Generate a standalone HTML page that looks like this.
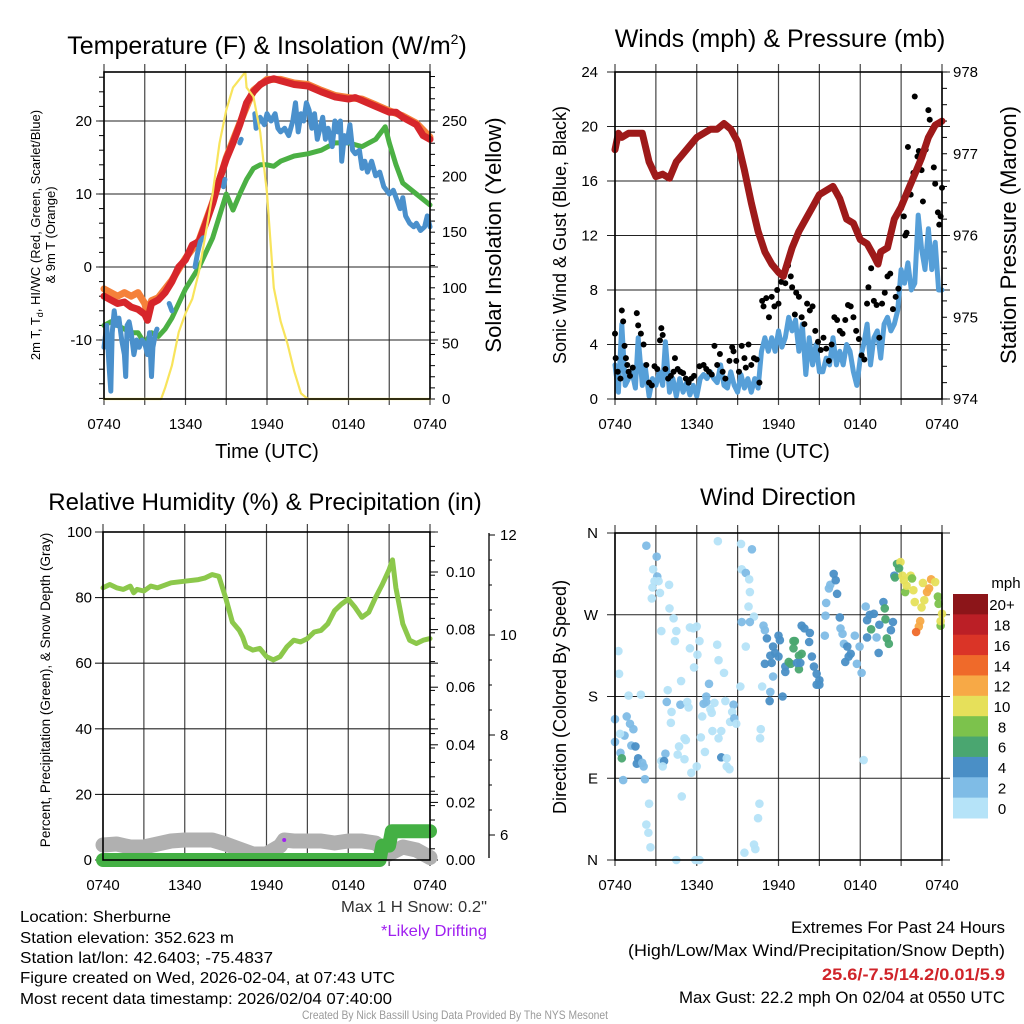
<!DOCTYPE html>
<html><head><meta charset="utf-8"><style>
html,body{margin:0;padding:0;background:#fff;}
svg{display:block;font-family:"Liberation Sans",sans-serif;}
</style></head><body>
<svg id="fig" width="1024" height="1024" viewBox="0 0 1024 1024" xmlns="http://www.w3.org/2000/svg">
<rect width="1024" height="1024" fill="#fff"/>
<g id="layer"></g>
<text x="267" y="54" font-size="25" text-anchor="middle">Temperature (F) &amp; Insolation (W/m<tspan font-size="14" dy="-10">2</tspan><tspan dy="10">)</tspan></text>
<text x="780" y="47" font-size="25" text-anchor="middle">Winds (mph) &amp; Pressure (mb)</text>
<text x="265" y="510" font-size="24" text-anchor="middle">Relative Humidity (%) &amp; Precipitation (in)</text>
<text x="778" y="505" font-size="24" text-anchor="middle">Wind Direction</text>
<text x="267" y="458" font-size="20" text-anchor="middle">Time (UTC)</text>
<text x="778" y="458" font-size="20" text-anchor="middle">Time (UTC)</text>
<text transform="translate(40,235) rotate(-90)" font-size="13" text-anchor="middle">2m T, T<tspan font-size="9" dy="3">d</tspan><tspan dy="-3">, HI/WC (Red, Green, Scarlet/Blue)</tspan></text>
<text transform="translate(55,235) rotate(-90)" font-size="13" text-anchor="middle">&amp; 9m T (Orange)</text>
<text transform="translate(501,235) rotate(-90)" font-size="22" text-anchor="middle">Solar Insolation (Yellow)</text>
<text transform="translate(566,235) rotate(-90)" font-size="18" text-anchor="middle">Sonic Wind &amp; Gust (Blue, Black)</text>
<text transform="translate(1016,235) rotate(-90)" font-size="22" text-anchor="middle">Station Pressure (Maroon)</text>
<text transform="translate(50,690) rotate(-90)" font-size="13.5" text-anchor="middle">Percent, Precipitation (Green), &amp; Snow Depth (Gray)</text>
<text transform="translate(566,697) rotate(-90)" font-size="18" text-anchor="middle">Direction (Colored By Speed)</text>
<text x="341" y="912" font-size="16" textLength="146" lengthAdjust="spacingAndGlyphs" fill="#333">Max 1 H Snow: 0.2"</text>
<text x="381" y="936" font-size="16" textLength="106" lengthAdjust="spacingAndGlyphs" fill="#a020f0">*Likely Drifting</text>
<g font-size="16">
<text x="20" y="922" textLength="151" lengthAdjust="spacingAndGlyphs">Location: Sherburne</text>
<text x="20" y="943" textLength="214" lengthAdjust="spacingAndGlyphs">Station elevation: 352.623 m</text>
<text x="20" y="963" textLength="253" lengthAdjust="spacingAndGlyphs">Station lat/lon: 42.6403; -75.4837</text>
<text x="20" y="983" textLength="375" lengthAdjust="spacingAndGlyphs">Figure created on Wed, 2026-02-04, at 07:43 UTC</text>
<text x="20" y="1004" textLength="372" lengthAdjust="spacingAndGlyphs">Most recent data timestamp: 2026/02/04 07:40:00</text>
</g>
<g font-size="16.5">
<text x="791" y="933" textLength="214" lengthAdjust="spacingAndGlyphs">Extremes For Past 24 Hours</text>
<text x="628" y="956" textLength="377" lengthAdjust="spacingAndGlyphs">(High/Low/Max Wind/Precipitation/Snow Depth)</text>
<text x="822" y="980" textLength="183" lengthAdjust="spacingAndGlyphs" fill="#d0242a" font-weight="bold">25.6/-7.5/14.2/0.01/5.9</text>
<text x="679" y="1003" textLength="326" lengthAdjust="spacingAndGlyphs">Max Gust: 22.2 mph On 02/04 at 0550 UTC</text>
</g>
<text x="302" y="1019" font-size="12" textLength="306" lengthAdjust="spacingAndGlyphs" fill="#9a9a9a">Created By Nick Bassill Using Data Provided By The NYS Mesonet</text>
</svg>
<script>
// ---------- DATA (hour since 0740 UTC, value) ----------
const xTickLabels = ["0740","1340","1940","0140","0740"];
const tempTicks = [20,10,0,-10];
const insolTicks = [250,200,150,100,50,0];
const windTicks = [0,4,8,12,16,20,24];
const presTicks = [978,977,976,975,974];
const rhTicks = [0,20,40,60,80,100];
const precipTicks = ["0.00","0.02","0.04","0.06","0.08","0.10"];
const snowTicks = [6,8,10,12];
const dirTicks = ["N","E","S","W","N"];
const speedBinLabels = ["0","2","4","6","8","10","12","14","16","18","20+"];
const speedBinColors = ["#b5e3f8","#7fbce6","#4a8fc6","#4aa670","#7cc24c","#e6e05a","#f7a946","#ef6a2a","#da3427","#bb1f26","#8c1519"];

const tempRed = [[0,-4],[0.5,-4.5],[1,-5],[1.5,-4.8],[2,-5.5],[2.5,-5.8],[3,-6.5],[3.2,-7.3],[3.5,-5],[4,-4.5],[4.5,-3.5],[5,-2],[5.5,0],[6,1],[6.5,3],[7,3.5],[7.5,6],[8,8.7],[8.5,12],[9,14.8],[9.5,17],[10,19.5],[10.5,22.5],[11,24],[11.5,25],[12,25.5],[12.5,25.8],[13,25.5],[14,25],[15,24.8],[16,24],[17,23.3],[18,23],[18.5,23.2],[19,22.8],[20,22],[21,21.2],[21.5,21.2],[22,20.5],[23,19.5],[23.5,18],[24,17.5]];
const tempOrange = [[0,-3],[0.5,-3.5],[1,-4],[1.5,-3.5],[2,-4],[2.5,-3.5],[3,-5],[3.2,-6.5],[3.5,-4.6],[4,-4.2],[5,-1.8],[6,1.2],[7,3.7],[8,8.9],[9,15],[10,19.7],[11,24.2],[12,25.7],[13,25.7],[14,25.2],[15,25],[16,24.2],[17,23.5],[18,23.2],[19,23],[20,22.2],[21,21.4],[22,20.7],[23,19.7],[24,17.8]];
const tempGreen = [[0,-8],[0.5,-7.5],[1,-8],[1.5,-8.5],[2,-9],[2.5,-9],[3,-10.5],[3.5,-9],[4,-9.5],[4.5,-8.5],[5,-7],[5.5,-5],[6,-3],[6.5,-1.5],[7,0],[7.5,2],[8,4],[8.5,7],[9,10],[9.5,7.8],[10,10],[10.5,12],[11,13.5],[11.5,14],[12,14],[12.5,13.8],[13,14.5],[14,15.2],[15,15.5],[16,16],[17,17],[18,17],[19,16.5],[20,17.5],[20.7,19.2],[21,17],[21.5,14],[22,11.5],[23,10],[24,8.5]];
const tempBlue = [[0,-11],[0.2,-8],[0.35,-13],[0.5,-17],[0.6,-9],[0.75,-6],[0.9,-8],[1.1,-7],[1.3,-10],[1.5,-12],[1.6,-15],[1.7,-8],[1.85,-7.5],[2,-9],[2.2,-12],[2.4,-10],[2.6,-11],[2.8,-10],[3,-10.5],[3.2,-12],[3.35,-9],[3.5,-15],[3.6,-11],[3.8,-9],[3.9,-8.5],null,[4.8,-5],[5,-6],null,[6.7,0],[6.9,2],[7.1,3.5],[7.3,4],null,[8.8,11],[8.9,12],null,[10,17],[10.1,17.5],null,[11.1,21],[11.2,19],[11.5,20.5],[11.8,19.5],[12,21],[12.3,20],[12.6,21],[12.8,19],[13,18.5],[13.3,19],[13.6,18],[13.9,20],[14.1,22.5],[14.3,18.5],[14.5,21],[14.7,20],[14.9,22.5],[15.1,21.5],[15.3,19],[15.5,21],[15.7,17.5],[15.9,19],[16.1,20.5],[16.3,17.5],[16.5,19],[16.8,16.5],[17,20],[17.2,18.5],[17.4,20],[17.5,14.5],[17.7,18],[17.9,17],[18.1,19.5],[18.3,16],[18.5,15.5],[18.8,16],[19,13.5],[19.2,14.5],[19.4,13],[19.7,14.5],[20,12.5],[20.3,13],[20.6,11],[20.8,10.5],[21,10],[21.3,10.5],[21.6,9],[21.8,8],[22,9.5],[22.2,7],[22.5,6],[22.8,5.5],[23,6],[23.3,5],[23.6,5.5],[23.8,7],[24,5.5]];
const insolation = [[0,0],[4.2,0],[4.5,10],[5,30],[5.5,60],[6,77],[6.5,90],[7,115],[7.5,150],[8,185],[8.5,230],[9,260],[9.5,280],[10.4,294],[10.5,280],[11,272],[11.5,240],[12,185],[12.5,100],[13,70],[13.5,50],[14,25],[14.5,5],[15,0],[24,0]];

const windSpeed = [[0,2.5],[0.25,0.5],[0.5,5.5],[0.75,1],[1,1.5],[1.25,2],[1.5,0.8],[1.7,4.5],[2,1],[2.2,2.5],[2.5,0.2],[2.75,1.5],[3,1],[3.25,2],[3.5,1],[3.7,4.2],[4,0.5],[4.25,1.5],[4.5,0.2],[4.75,1.5],[5,0.5],[5.25,1.2],[5.5,0.3],[5.75,1],[6,0.2],[6.25,1.5],[6.5,1.8],[6.75,1.5],[7,2],[7.25,1.5],[7.5,1.2],[7.75,2.5],[8,1],[8.25,0.8],[8.5,2],[8.75,1],[9,0.5],[9.25,1.8],[9.5,0.8],[9.75,1.5],[10,0.5],[10.25,1.5],[10.5,0.8],[10.75,3.5],[11,4.5],[11.25,3.5],[11.5,4.5],[11.75,3.5],[12,5],[12.25,3.8],[12.5,4.5],[12.75,6],[13,5],[13.25,5.8],[13.5,3.5],[13.75,5.5],[14,1.8],[14.25,4.5],[14.5,2.5],[14.75,4],[15,2],[15.25,2],[15.5,3],[15.75,2.5],[16,4.5],[16.25,2.5],[16.5,3.5],[16.75,2.5],[17,4],[17.25,3.5],[17.5,2],[17.75,1],[18,3],[18.25,4],[18.5,5.5],[18.75,2.5],[19,4.5],[19.25,5],[19.5,3],[19.75,5.5],[20,6],[20.25,5],[20.5,5.5],[20.75,6.5],[21,9.5],[21.25,8.5],[21.5,10],[21.75,8],[22,8.5],[22.25,13.5],[22.5,11],[22.75,9.5],[23,12.5],[23.25,9.5],[23.5,11.5],[23.75,8],[24,8]];
const windGust = [[0,4.8],[0.05,3],[0.2,2],[0.4,1.5],[0.5,6.5],[0.6,5.7],[0.7,3.9],[0.8,3],[0.9,2.5],[1,2],[1.1,1.7],[1.3,2.3],[1.6,6.3],[1.7,5.4],[1.9,4.8],[2.1,4],[2.3,2.5],[2.5,1.2],[2.7,1],[2.9,2.4],[3.1,2.2],[3.3,4.3],[3.4,5.2],[3.5,4.7],[3.7,2.2],[3.9,1.5],[4.1,1.7],[4.3,2],[4.4,3],[4.6,2.2],[4.8,2],[5,1.9],[5.2,1.5],[5.4,1.2],[5.6,1.5],[5.8,1.7],[6.2,2.4],[6.5,2.5],[6.7,2.2],[6.9,2],[7.1,1.8],[7.3,3.9],[7.5,2.5],[7.7,3.3],[7.9,2],[8.1,1.5],[8.4,2.8],[8.6,3.8],[8.7,3.5],[8.9,2.8],[9.1,2],[9.3,3.9],[9.5,3],[9.6,2.3],[9.8,4],[10,2.5],[10.2,3],[10.4,2.9],[10.6,1.2],[10.8,7.2],[10.9,6.8],[11.1,7.4],[11.3,6],[11.5,7.5],[11.7,6.8],[11.9,8],[12,7],[12.2,8.6],[12.4,9.2],[12.5,8.5],[12.7,9.8],[12.9,9],[13,8.2],[13.2,6.2],[13.3,7.8],[13.5,7.5],[13.7,6],[13.9,5.5],[14.1,7],[14.3,6.5],[14.5,6.8],[14.7,5],[14.9,4.2],[15.1,3.6],[15.3,4.5],[15.5,3.7],[15.7,2.8],[15.9,4],[16.1,6],[16.3,5.8],[16.5,5],[16.7,4.8],[16.9,5.8],[17.1,6.9],[17.3,6.8],[17.5,6],[17.7,5],[17.9,4.4],[18.1,3.2],[18.3,2.9],[18.5,7],[18.6,8.2],[18.8,9.6],[19,7.2],[19.2,6.9],[19.4,4.5],[19.6,7],[19.8,7.8],[20,9],[20.2,9.2],[20.4,6.6],[20.6,7.5],[20.8,8.1],[21,14],[21.2,13.4],[21.3,12],[21.4,12.2],[21.5,18.5],[21.7,15],[21.9,16.6],[22,22.2],[22.2,17.8],[22.3,18.2],[22.5,16.8],[22.6,14.5],[22.8,18.3],[23,21.2],[23.1,20.5],[23.2,19.5],[23.4,17],[23.5,15.8],[23.7,13.7],[23.8,12.8],[23.9,13.4],[24,15.5]];
const pressure = [[0,977.05],[0.25,977.25],[0.5,977.2],[1,977.25],[1.5,977.25],[2,977.25],[2.5,976.9],[3,976.72],[3.5,976.75],[4,976.7],[4.5,976.9],[5,977.0],[5.5,977.1],[6,977.2],[7,977.3],[7.5,977.3],[8,977.37],[8.5,977.3],[9,977.15],[9.5,976.8],[10,976.4],[10.5,976.05],[11,975.8],[11.5,975.65],[12,975.55],[12.35,975.5],[13,975.85],[13.5,976.05],[14,976.2],[14.5,976.35],[15,976.5],[15.5,976.55],[16,976.6],[16.5,976.45],[17,976.2],[17.5,976.15],[18,975.95],[18.5,975.9],[19,975.75],[19.3,975.65],[19.5,975.8],[20,975.85],[20.5,976.2],[21,976.35],[21.5,976.55],[22,976.75],[22.5,976.95],[23,977.2],[23.5,977.35],[24,977.4]];

const relHumidity = [[0,83],[0.5,84],[1,83],[1.5,82.5],[2,83.5],[2.25,81.5],[2.5,82.5],[3,82],[3.5,83.5],[4,83],[5,84.5],[6,85],[7,85.5],[7.5,86],[8,87],[8.5,86.5],[9,80],[9.5,72.5],[10,70],[10.25,68],[10.5,65],[11,64],[11.5,64.5],[12,62],[12.5,61],[13,62],[13.5,65],[14,67],[14.5,66.5],[15,67.5],[15.5,69.5],[16,70],[16.5,72],[17,76],[17.5,78],[18,79.5],[18.5,77],[19,74],[19.5,75.5],[20,80],[20.5,84],[21,88.5],[21.25,91.5],[21.5,83],[22,72],[22.5,67],[23,66],[23.5,67],[24,67.5]];
const snowDepth = [[0,5.8],[1,5.82],[2,5.76],[3,5.76],[4,5.82],[5,5.88],[6,5.9],[7,5.9],[8,5.9],[9,5.82],[10,5.72],[11,5.62],[12,5.62],[13,5.78],[13.3,5.9],[14,5.88],[16,5.88],[17,5.84],[18,5.88],[19,5.88],[20,5.84],[21,5.62],[22,5.76],[23,5.7],[24,5.55]];
const precip = [[0,0],[20.3,0],[20.5,0.005],[21,0.005],[21.2,0.01],[24,0.01]];
const driftFlags = [[13.3,5.9]];

// wind direction: [hour, degrees, speed mph]
const windDir = [[0,155,3],[0.86,158,3],[1.1,150,2],[1.35,144,3],[0.7,137,3],[0.37,139,1],[0,130,3],[1.2,126,2],[1.5,125,4],[0.4,118,3],[0.5,112,6],[1.7,112,4],[1.6,106,4],[2.1,103,3],[2.0,107,2],[0.6,88,3],[2.2,89,3],[2.5,62,1],[2.3,39,1],[2.45,30,1],[2.6,14,1],[0.25,230,1],[0.3,205,1],[1,181,1],[1.9,182,1],[2.3,346,3],[3.06,334,3],[2.8,320,1],[3.1,312,3],[2.9,307,1],[3.2,307,1],[2.75,300,1],[3.3,294,1],[2.7,288,1],[3.97,303,1],[4.0,277,1],[4.3,266,1],[3.4,252,1],[4.5,252,1],[4.4,241,1],[5.5,233,1],[5.5,256,1],[6,257,1],[5.75,255,1],[6.2,241,1],[7.5,237,1],[6.05,226,1],[7.6,220,1],[5.8,212,1],[8,206,1],[4.85,197,1],[3.87,187,1],[6.9,194,3],[3.8,174,3],[4.8,171,3],[5.3,174,1],[5.4,168,1],[6.7,180,3],[6.7,174,3],[6.5,172,2],[7.3,173,1],[8.1,175,1],[8.7,171,3],[7,166,1],[6.4,158,1],[7.1,162,1],[8.6,163,1],[8.45,152,1],[8.75,156,3],[8.9,150,1],[4.15,163,1],[4.1,151,1],[6.3,135,1],[7.15,142,1],[7.8,142,1],[7.6,134,1],[5.1,134,1],[5.2,132,1],[4.7,125,1],[6.6,119,1],[3.7,117,3],[4.6,116,1],[5.1,111,1],[7.8,113,4],[8.2,112,1],[3.4,109,1],[3.6,109,4],[3.5,103,1],[6,103,1],[8.2,103,1],[8.4,100,1],[5.6,96,1],[4.9,70,1],[4.5,0,1],[5.9,0,1],[6.2,0,1],[9.5,8,1],[10.2,17,1],[10.3,12,1],[10.5,46,1],[10.6,62,1],[10.7,144,1],[10.65,134,1],[10.8,191,1],[9.2,191,1],[9.6,235,1],[7.55,351,1],[9.25,348,1],[10.05,342,3],[9.3,320,1],[9.6,316,3],[9.85,309,1],[9.9,295,1],[9.8,279,1],[10.2,268,1],[9.3,262,2],[9.9,262,2],[10.9,258,3],[11.0,253,3],[11.15,244,4],[12,247,4],[12.1,242,4],[11.6,235,4],[11.75,228,4],[11.4,225,4],[11,216,4],[11.5,217,4],[12,224,4],[11.6,202,3],[11.4,185,3],[11.35,175,4],[12.3,180,4],[12.5,213,4],[12.5,207,4],[12.75,218,6],[12.9,216,6],[13.1,233,6],[13.2,241,6],[13.1,241,6],[13.5,210,6],[13.5,225,6],[13.7,227,6],[13.6,217,4],[13.35,217,4],[13.7,258,4],[13.9,255,4],[14.3,250,4],[14.25,240,4],[14.45,224,4],[14.6,213,4],[14.8,205,4],[15,198,4],[14.8,193,4],[15,193,4],[15.4,247,3],[15.45,269,3],[15.5,283,3],[15.7,299,3],[15.8,303,3],[16.05,315,4],[16.2,308,4],[16.3,293,4],[16.5,267,4],[16.55,255,3],[16.7,249,3],[16.8,238,3],[17.05,235,4],[17.15,224,4],[16.9,218,4],[17.3,227,4],[17.6,247,3],[17.95,235,3],[17.75,216,3],[18.1,206,3],[18.25,110,1],[18.4,279,3],[18.5,264,4],[18.7,270,4],[19,271,4],[18.5,245,4],[18.8,254,6],[19.2,245,3],[19.35,228,4],[19.7,284,4],[19.8,277,6],[19.85,265,6],[19.4,259,4],[19.95,244,6],[20.1,238,6],[20.25,253,4],[20.4,262,4],[20.5,313,4],[20.55,311,6],[20.7,326,6],[20.95,328,10],[20.85,321,6],[21.1,313,10],[21.2,308,10],[21.7,313,10],[21.8,310,8],[21.3,295,8],[21.4,302,10],[21.9,297,10],[22,284,10],[22.5,278,10],[22.7,286,10],[22.6,305,10],[22.9,295,12],[23.05,299,12],[23.2,309,12],[23.5,306,10],[23.7,290,8],[23.75,282,8],[24,271,10],[23.9,258,8],[23.9,263,10],[22.4,263,12],[22.3,257,12],[22.1,251,14]];

// ---------- DRAWING ----------
const NS="http://www.w3.org/2000/svg";
const layer=document.getElementById('layer');
function mk(tag,attrs,parent){const e=document.createElementNS(NS,tag);for(const k in attrs)e.setAttribute(k,attrs[k]);(parent||layer).appendChild(e);return e;}
function txt(x,y,s,size,anchor,parent){const t=mk('text',{x:x,y:y,'font-size':size,'text-anchor':anchor||'middle'},parent);t.textContent=s;return t;}

const P1={x0:104,x1:430,yt:72,yb:399};
const P2={x0:615,x1:942,yt:72,yb:399};
const P3={x0:103,x1:430,yt:532,yb:860};
const P4={x0:615,x1:942,yt:533,yb:860};
function xs(p,h){return p.x0+(p.x1-p.x0)*h/24;}
function lin(d0,d1,r0,r1){return v=>r0+(v-d0)*(r1-r0)/(d1-d0);}
const yTemp=lin(0,20,267,121), yIns=lin(0,250,399,121);
const yWind=lin(0,24,399,72), yPres=lin(974,978,399,72);
const yRH=lin(0,100,860,532), yPrec=lin(0,0.1,860,572), ySnow=lin(6,12,835,535);
const yDir=lin(0,360,860,533);

function frame(p,name){
  const g=mk('g',{});
  
  
  for(let i=0;i<=8;i++){const x=xs(p,i*3);mk('line',{x1:x,x2:x,y1:p.yt-8,y2:p.yb+6,stroke:'#444','stroke-width':1.2},g);}
  xTickLabels.forEach((s,i)=>{const t=txt(xs(p,i*6),p.yb+30,s,15,'middle',g);});
  return g;
}
function border(p,name){const r=mk('rect',{x:p.x0,y:p.yt,width:p.x1-p.x0,height:p.yb-p.yt,fill:'none',stroke:'#000','stroke-width':1.6});}
function hgrid(p,ys,g){ys.forEach(y=>mk('line',{x1:p.x0-8,x2:p.x1+8,y1:y,y2:y,stroke:'#222','stroke-width':1.1},g));}
function pathFrom(p,data,yf){let d='',pen=false;data.forEach(pt=>{if(pt===null){pen=false;return;}d+=(pen?'L':'M')+xs(p,pt[0]).toFixed(1)+','+yf(pt[1]).toFixed(1);pen=true;});return d;}
function line(p,data,yf,color,w,name){const e=mk('path',{d:pathFrom(p,data,yf),fill:'none',stroke:color,'stroke-width':w,'stroke-linejoin':'round','stroke-linecap':'round'});return e;}
function minor(x,y0,y1,step,dir,g){for(let y=y0;y<=y1+0.1;y+=step)mk('line',{x1:x,x2:x+dir*5,y1:y,y2:y,stroke:'#000','stroke-width':1},g);}

// Panel 1
{const g=frame(P1,'temperature');
 hgrid(P1,tempTicks.map(yTemp),g);
 tempTicks.forEach(v=>{const t=txt(92,yTemp(v)+5,String(v),15,'end',g);});
 insolTicks.forEach(v=>{const t=txt(442,yIns(v)+5,String(v),15,'start',g);});
 minor(P1.x1,yIns(290),P1.yb,(yIns(0)-yIns(10)),1,g);
 minor(P1.x0,yTemp(26),P1.yb,(yTemp(0)-yTemp(2)),-1,g);
 line(P1,tempOrange,yTemp,'#f5813a',7,'temp-9m-line');
 line(P1,tempRed,yTemp,'#d7262b',7,'temp-2m-line');
 line(P1,tempGreen,yTemp,'#4bb044',5,'dewpoint-line');
 line(P1,tempBlue,yTemp,'#4a90cc',5,'windchill-line');
 line(P1,insolation,yIns,'#f8e45c',2.2,'insolation-line');
 border(P1,'temperature');}

// Panel 2
{const g=frame(P2,'winds');
 hgrid(P2,windTicks.map(yWind),g);
 windTicks.forEach(v=>{const t=txt(598,yWind(v)+5,String(v),15,'end',g);});
 presTicks.forEach(v=>{const t=txt(953,yPres(v)+5,String(v),15,'start',g);});
 minor(P2.x1,P2.yt,P2.yb,(yPres(974)-yPres(974.2)),1,g);
 line(P2,windSpeed,yWind,'#569fd8',5,'sonic-wind-line');
 const gg=mk('g',{});
 
 
 windGust.forEach(pt=>{const c=mk('circle',{cx:xs(P2,pt[0]),cy:yWind(pt[1]),r:3,fill:'#000'},gg);});
 line(P2,pressure,yPres,'#9e1a1a',7,'pressure-line');
 border(P2,'winds');}

// Panel 3
{const g=frame(P3,'humidity');
 hgrid(P3,rhTicks.map(yRH),g);
 rhTicks.forEach(v=>{const t=txt(92,yRH(v)+5,String(v),15,'end',g);});
 precipTicks.forEach(s=>{const v=parseFloat(s);mk('line',{x1:P3.x1,x2:P3.x1+8,y1:yPrec(v),y2:yPrec(v),stroke:'#000'},g);const t=txt(446,yPrec(v)+5,s,15,'start',g);});
 minor(P3.x1,P3.yt,P3.yb,(yPrec(0)-yPrec(0.005)),1,g);
 const sx=489;
 const ax=mk('line',{x1:sx,x2:sx,y1:533,y2:858,stroke:'#000','stroke-width':1.3},g);
 
 snowTicks.forEach(v=>{mk('line',{x1:sx,x2:sx+6,y1:ySnow(v),y2:ySnow(v),stroke:'#000'},g);const t=txt(500,ySnow(v)+5,String(v),15,'start',g);});
 for(let v=6.5;v<12;v+=0.5){if(v%2)mk('line',{x1:sx,x2:sx+3,y1:ySnow(v),y2:ySnow(v),stroke:'#000'},g);}
 line(P3,snowDepth,ySnow,'#b0b0b0',15,'snow-depth-line');
 line(P3,precip,yPrec,'#44b044',14,'precip-line');
 line(P3,relHumidity,yRH,'#8cc84b',5,'rh-line');
 driftFlags.forEach(pt=>{const c=mk('circle',{cx:xs(P3,pt[0]),cy:ySnow(pt[1]),r:2,fill:'#a020f0'});});
 border(P3,'humidity');}

// Panel 4
{const g=frame(P4,'direction');
 hgrid(P4,[0,90,180,270,360].map(yDir),g);
 dirTicks.forEach((s,i)=>{const t=txt(598,yDir(i*90)+5,s,15,'end',g);});
 const gg=mk('g',{});
 
 
 windDir.forEach(pt=>{const bin=Math.min(10,Math.floor(pt[2]/2));const c=mk('circle',{cx:xs(P4,pt[0]),cy:yDir(pt[1]),r:4.3,fill:speedBinColors[bin],opacity:0.95},gg);});
 border(P4,'direction');
 const cb=mk('g',{});
 
 
 const bh=(818-594)/11;
 speedBinLabels.forEach((s,i)=>{const k=10-i;const y=594+i*bh;
   const r=mk('rect',{x:953,y:y,width:35,height:bh+0.5,fill:speedBinColors[10-i]},cb);
   
   const t=txt(1002,y+bh/2+6,speedBinLabels[k],15,'middle',cb);});
 const u=txt(1006,588,'mph',15,'middle',cb);}
</script>
</body></html>
